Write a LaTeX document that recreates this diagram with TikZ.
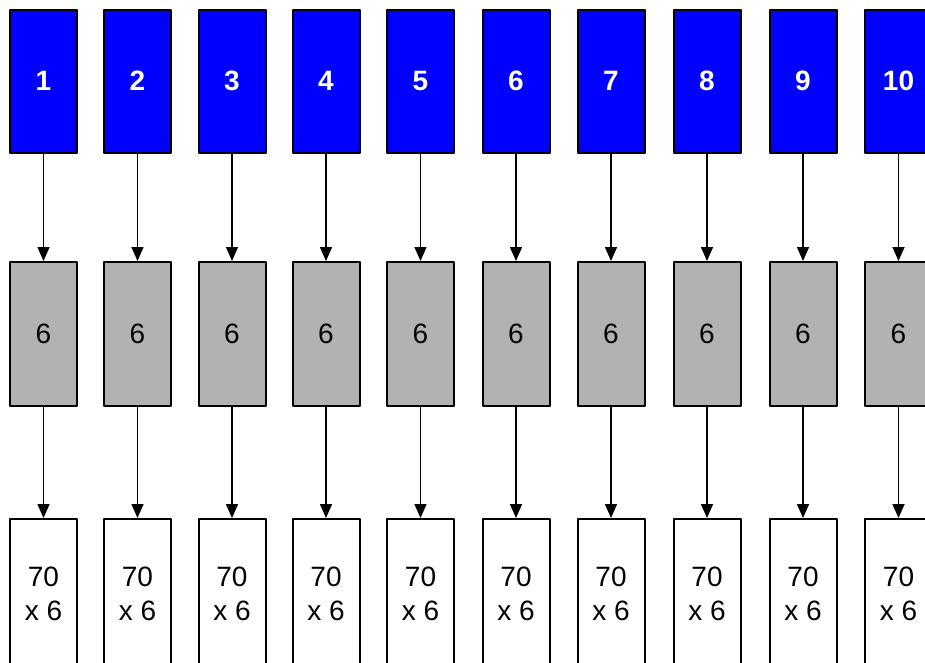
\documentclass[tikz,border=0pt]{standalone}
\usepackage{fontspec}
\setmainfont{Liberation Sans}
\usetikzlibrary{arrows.meta}

\definecolor{idblue}{RGB}{0,0,255}
\definecolor{midgray}{RGB}{178,178,178}

\begin{document}
	\begin{tikzpicture}[
		x=1pt, 
		y=-1pt, 
		line join=round, 
		>={Triangle[width=12pt,length=14pt]},
		idbox/.style={draw=black, fill=idblue, line width=2pt, 
			minimum width=67pt, minimum height=143pt, inner sep=0pt, 
			text=white, font=\fontsize{28}{34}\selectfont\bfseries},
		countbox/.style={draw=black, fill=midgray, line width=2pt, 
			minimum width=67pt, minimum height=144pt, inner sep=0pt, 
			font=\fontsize{28}{34}\selectfont},
		sizebox/.style={draw=black, fill=white, line width=2pt, 
			minimum width=67pt, minimum height=150pt, inner sep=0pt, 
			align=center, font=\fontsize{28}{34}\selectfont},
		flow/.style={->, line width=1.5pt}
		]
		
		\useasboundingbox (0,0) rectangle (925,662);
		\clip (0,0) rectangle (925,662);
		
		\foreach \cx [count=\i] in {43.5,137.5,232,326,420.5,516,611,707,803,898.5} {
			\node[idbox] (top\i) at (\cx,81) {\i};
			\node[countbox] (mid\i) at (\cx,334) {6};
			\node[sizebox] (bot\i) at (\cx,594) {70\\x 6};
			
			\draw[flow] (top\i) -- (mid\i);
			\draw[flow] (mid\i) -- (bot\i);
		}
		
	\end{tikzpicture}
\end{document}
